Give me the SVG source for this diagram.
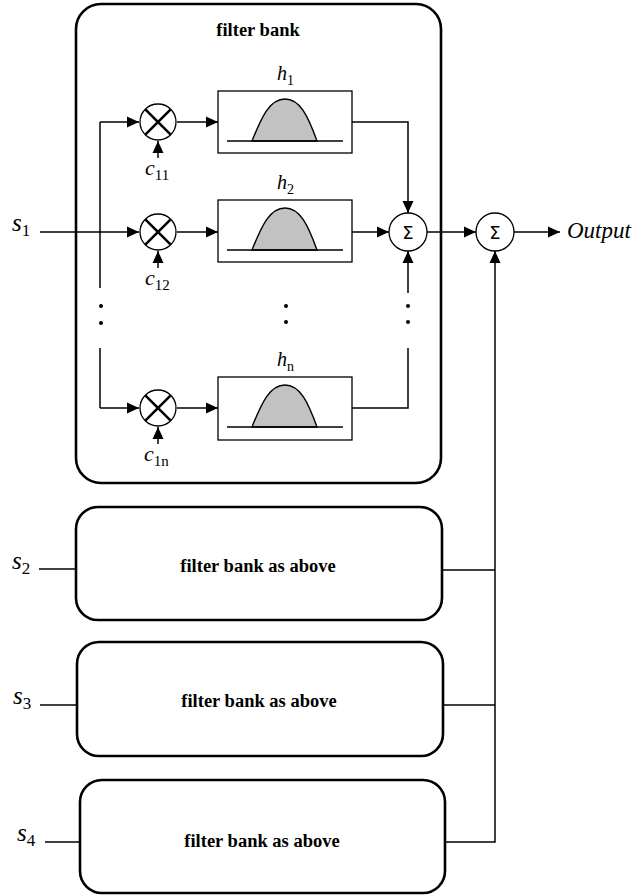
<svg xmlns="http://www.w3.org/2000/svg" width="644" height="895" viewBox="0 0 644 895">
<defs>
<marker id="ah" viewBox="0 0 12 12" refX="12" refY="6" markerWidth="12" markerHeight="12" markerUnits="userSpaceOnUse" orient="auto">
<path d="M0,0.5 L12,6 L0,11.5 Z" fill="#000"/>
</marker>
<style>
.bank{fill:none;stroke:#000;stroke-width:2.6}
.fbox{fill:#fff;stroke:#000;stroke-width:1.3}
.bell{fill:#c2c2c2;stroke:#000;stroke-width:1.4}
.base{stroke:#000;stroke-width:1.4;fill:none}
.circ{fill:#fff;stroke:#000;stroke-width:1.3}
.xl{stroke:#000;stroke-width:2.6}
.ln{stroke:#000;stroke-width:1.5;fill:none}
.arr{stroke:#000;stroke-width:1.5;fill:none;marker-end:url(#ah)}
.it{font-style:italic}
.bold{font-weight:bold;font-size:18.5px}
.dot{fill:#000}
</style>
</defs>
<rect width="644" height="895" fill="#fff"/>

<g id="connectors">
<path class="ln" d="M100,122 V288"/>
<path class="arr" d="M100,122 H139"/>
<path class="arr" d="M40,232 H139"/>
<path class="ln" d="M100,348 V408"/>
<path class="arr" d="M100,408 H139"/>
<path class="arr" d="M177,122 H218"/>
<path class="arr" d="M177,232 H218"/>
<path class="arr" d="M177,408 H218"/>
<path class="arr" d="M158,158 V141"/>
<path class="arr" d="M158,268 V251"/>
<path class="arr" d="M158,444 V427"/>
<path class="arr" d="M352,122 H408 V213"/>
<path class="arr" d="M352,232 H389"/>
<path class="ln" d="M352,408 H408 V348"/>
<path class="arr" d="M408,293 V251"/>
<path class="arr" d="M427,232 H476"/>
<path class="arr" d="M514,232 H560"/>
<path class="ln" d="M442,570 H495"/>
<path class="ln" d="M443,705 H495"/>
<path class="arr" d="M445,842 H495 V251"/>
<path class="ln" d="M39,569 H76"/>
<path class="ln" d="M40,705 H77"/>
<path class="ln" d="M45,842 H80"/>
<circle class="dot" cx="101" cy="306" r="2"/>
<circle class="dot" cx="101" cy="323" r="2"/>
<circle class="dot" cx="286" cy="306" r="2"/>
<circle class="dot" cx="286" cy="322" r="2"/>
<circle class="dot" cx="408" cy="306" r="2"/>
<circle class="dot" cx="408" cy="322" r="2"/>
</g>

<g font-family="Liberation Serif, Times New Roman, serif">
<g id="bank1">
<rect class="bank" x="76" y="4" width="365" height="479" rx="25"/>
<text class="bold" x="258" y="36" text-anchor="middle">filter bank</text>
</g>

<g id="s1"><text class="it" x="12" y="231" font-size="25">s<tspan font-style="normal" font-size="17" dy="5">1</tspan></text></g>

<g id="mult1">
<circle class="circ" cx="158" cy="122" r="18"/>
<path class="xl" d="M145.3,109.3 L170.7,134.7 M170.7,109.3 L145.3,134.7"/>
<text class="it" x="145" y="175" font-size="22">c<tspan font-style="normal" font-size="15" dy="5">11</tspan></text>
</g>
<g id="mult2">
<circle class="circ" cx="158" cy="232" r="18"/>
<path class="xl" d="M145.3,219.3 L170.7,244.7 M170.7,219.3 L145.3,244.7"/>
<text class="it" x="145" y="285" font-size="22">c<tspan font-style="normal" font-size="15" dy="5">12</tspan></text>
</g>
<g id="multn">
<circle class="circ" cx="158" cy="408" r="18"/>
<path class="xl" d="M145.3,395.3 L170.7,420.7 M170.7,395.3 L145.3,420.7"/>
<text class="it" x="144" y="461" font-size="22">c<tspan font-style="normal" font-size="15" dy="5">1n</tspan></text>
</g>

<g id="filter1">
<text class="it" x="277" y="80" font-size="20">h<tspan font-style="normal" font-size="14" dy="5">1</tspan></text>
<rect class="fbox" x="218" y="91" width="134" height="62"/>
<path class="bell" d="M252,141 C262,116 270,99 285,99 C300,99 308,116 317,141 Z"/>
<path class="base" d="M227,141 H343"/>
</g>
<g id="filter2">
<text class="it" x="277" y="189" font-size="20">h<tspan font-style="normal" font-size="14" dy="5">2</tspan></text>
<rect class="fbox" x="218" y="200" width="134" height="62"/>
<path class="bell" d="M252,250 C262,225 270,208 285,208 C300,208 308,225 317,250 Z"/>
<path class="base" d="M227,250 H343"/>
</g>
<g id="filtern">
<text class="it" x="277" y="366" font-size="20">h<tspan font-style="normal" font-size="14" dy="5">n</tspan></text>
<rect class="fbox" x="218" y="377" width="134" height="63"/>
<path class="bell" d="M252,427 C262,402 270,385 285,385 C300,385 308,402 317,427 Z"/>
<path class="base" d="M227,427 H343"/>
</g>

<g id="sum1">
<circle class="circ" cx="408" cy="232" r="19"/>
<text font-family="DejaVu Sans, sans-serif" font-size="18" x="408" y="238.5" text-anchor="middle">Σ</text>
</g>
<g id="sum2">
<circle class="circ" cx="495" cy="232" r="19"/>
<text font-family="DejaVu Sans, sans-serif" font-size="18" x="495" y="238.5" text-anchor="middle">Σ</text>
</g>
<g id="output"><text class="it" x="567" y="238" font-size="23">Output</text></g>

<g id="bank2">
<rect class="bank" x="76" y="507" width="366" height="113" rx="22"/>
<text class="bold" x="258" y="572" text-anchor="middle">filter bank as above</text>
</g>
<g id="s2"><text class="it" x="12" y="569" font-size="25">s<tspan font-style="normal" font-size="17" dy="5">2</tspan></text></g>

<g id="bank3">
<rect class="bank" x="77" y="642" width="366" height="114" rx="22"/>
<text class="bold" x="259" y="707" text-anchor="middle">filter bank as above</text>
</g>
<g id="s3"><text class="it" x="13" y="704" font-size="25">s<tspan font-style="normal" font-size="17" dy="5">3</tspan></text></g>

<g id="bank4">
<rect class="bank" x="80" y="780" width="365" height="113" rx="22"/>
<text class="bold" x="262" y="847" text-anchor="middle">filter bank as above</text>
</g>
<g id="s4"><text class="it" x="17" y="841" font-size="25">s<tspan font-style="normal" font-size="17" dy="5">4</tspan></text></g>
</g>
</svg>
